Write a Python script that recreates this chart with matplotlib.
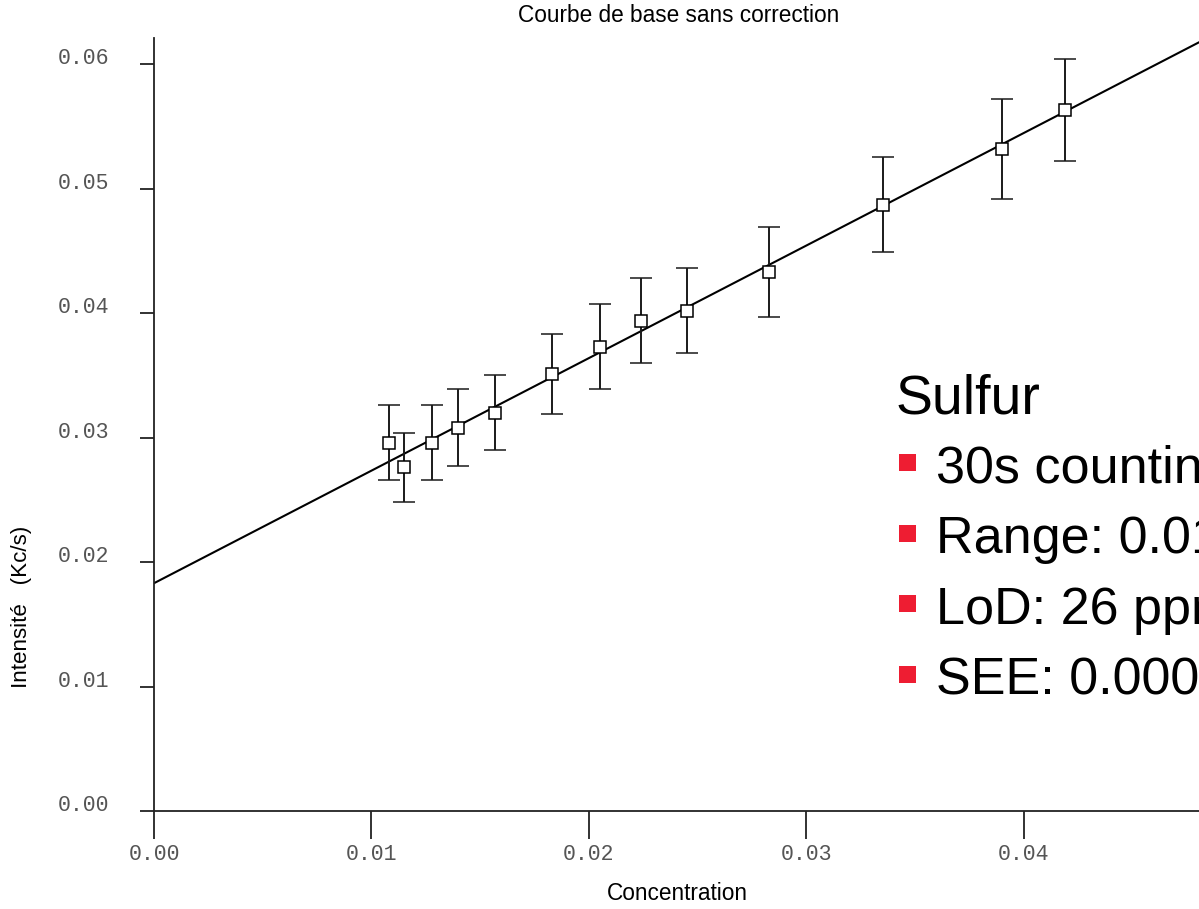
import matplotlib.pyplot as plt
from matplotlib.patches import Rectangle

# points de calibration (concentration, intensite, erreur)
conc = [0.0108, 0.0115, 0.0128, 0.0140, 0.0157, 0.0183, 0.0205,
        0.0224, 0.0245, 0.0283, 0.0335, 0.0390, 0.0419]
inten = [0.0296, 0.0276, 0.0296, 0.0308, 0.0320, 0.0351, 0.0373,
         0.0394, 0.0402, 0.0433, 0.0487, 0.0532, 0.0563]
err = [0.0030, 0.0028, 0.0030, 0.0031, 0.0030, 0.0032, 0.0034,
       0.0034, 0.0034, 0.0036, 0.0038, 0.0040, 0.0041]

# droite de regression
fit_x = [0.0, 0.0481]
fit_y = [0.0183, 0.0618]

xticks = [0.00, 0.01, 0.02, 0.03, 0.04]
yticks = [0.00, 0.01, 0.02, 0.03, 0.04, 0.05, 0.06]

W, H = 1199, 909
fig = plt.figure(figsize=(W / 100, H / 100), dpi=100)
ax = fig.add_axes([154 / W, 1 - 811 / H, 1 - 154 / W, (811 - 38) / H])

ax.plot(fit_x, fit_y, color='black', lw=1.5)
ax.errorbar(conc, inten, yerr=err, fmt='s', ms=8.5, mfc='white', mec='black',
            mew=1.1, ecolor='#1a1a1a', elinewidth=1.4, capsize=8, capthick=1.4)

ax.set_xlim(0, 0.04805)
ax.set_ylim(0, 0.0621)
ax.set_xticks(xticks)
ax.set_yticks(yticks)
ax.set_xticklabels(['%.2f' % v for v in xticks])
ax.set_yticklabels(['%.2f' % v for v in yticks])

for s in ['top', 'right']:
    ax.spines[s].set_visible(False)
for s in ['left', 'bottom']:
    ax.spines[s].set_color('#222222')
    ax.spines[s].set_linewidth(1.3)

ax.tick_params(axis='x', direction='out', length=20, width=1.3, color='#222222',
               pad=4, labelsize=15.5, labelcolor='#555555')
ax.tick_params(axis='y', direction='out', length=10, width=1.3, color='#222222',
               pad=22, labelsize=15.5, labelcolor='#555555')
for lab in ax.get_xticklabels() + ax.get_yticklabels():
    lab.set_family('Liberation Mono')
for lab in ax.get_yticklabels():
    lab.set_va('baseline')

sans = 'Liberation Sans'
fig.text(679 / W, 1 - 15 / H, 'Courbe de base sans correction', ha='center',
         va='center', fontsize=16.3, family=sans)
fig.text(677 / W, 1 - 894 / H, 'Concentration', ha='center', va='center',
         fontsize=16.3, family=sans)
fig.text(22 / W, 1 - 607 / H, 'Intensité   (Kc/s)', ha='center', va='center',
         rotation=90, fontsize=16.1, family=sans)

# texte de la diapositive (coupe au bord droit comme sur l'original)
fig.text(896 / W, 1 - 413 / H, 'Sulfur', ha='left', va='baseline',
         fontsize=40, family=sans)
bullets = ['30s counting time', 'Range: 0.01-0.04 %', 'LoD: 26 ppm', 'SEE: 0.0003 %']
for i, b in enumerate(bullets):
    base = 483 + i * 70.5
    fig.text(936 / W, 1 - base / H, b, ha='left', va='baseline',
             fontsize=37.5, family=sans)
    fig.add_artist(Rectangle((899 / W, 1 - (base - 12) / H), 17 / W, 17 / H,
                             transform=fig.transFigure, color='#ee1d32', lw=0))

fig.savefig('out.png', dpi=100)
